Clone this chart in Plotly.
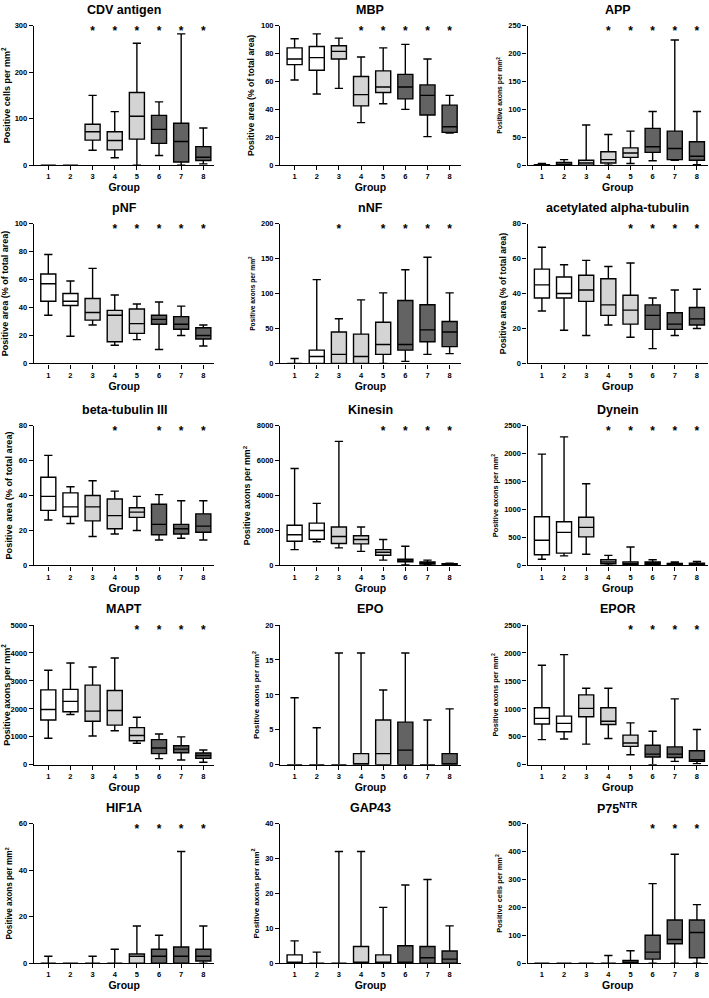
import plotly.graph_objects as go

GROUPS = [1, 2, 3, 4, 5, 6, 7, 8]
SHADES = ["#ffffff", "#ffffff", "#d4d4d4", "#d4d4d4", "#d4d4d4", "#636363", "#636363", "#636363"]

# ---- CDV antigen
cdv_low  = [0, 0, 32, 16, 0, 21, 0, 3]
cdv_q1   = [0, 0, 54, 33, 56, 47, 7, 10]
cdv_med  = [0, 0, 72, 53, 105, 77, 51, 17]
cdv_q3   = [0, 0, 88, 72, 156, 107, 90, 40]
cdv_high = [0, 0, 150, 115, 262, 136, 282, 80]
cdv_star = [3, 4, 5, 6, 7, 8]

# ---- MBP
mbp_low  = [61, 51, 55, 30.5, 44, 40, 20.5, 23]
mbp_q1   = [72, 68, 76, 42.5, 52, 47.5, 36, 23.5]
mbp_med  = [76, 77, 81.5, 50.5, 56, 56, 50, 27.5]
mbp_q3   = [84, 85, 85.5, 63.5, 67.5, 65, 57.5, 43]
mbp_high = [90.5, 94, 91, 77.5, 84, 86.5, 76, 50]
mbp_star = [4, 5, 6, 7, 8]

# ---- APP
app_low  = [0, 0, 0, 0, 3, 8, 9, 1]
app_q1   = [0, 0, 0, 4, 14, 23, 10, 9]
app_med  = [0, 1, 4, 10, 22, 33, 30, 16]
app_q3   = [1, 5, 9, 24, 31, 66, 61, 42]
app_high = [3, 10, 72, 55, 61, 96, 224, 96]
app_star = [4, 5, 6, 7, 8]

# ---- pNF
pnf_low  = [34.5, 19.5, 27.5, 13, 17, 10, 20, 12.5]
pnf_q1   = [44.5, 41.5, 31, 15.5, 21.5, 28, 24.5, 17.5]
pnf_med  = [57, 44.5, 36.5, 34.5, 28.5, 31.5, 28, 20]
pnf_q3   = [64, 50, 46.5, 38, 39, 34.5, 33.5, 25.5]
pnf_high = [78, 59, 68, 49, 42.5, 44, 41, 27.5]
pnf_star = [4, 5, 6, 7, 8]

# ---- nNF
nnf_low  = [0, 0, 0, 0, 0, 3, 13, 14]
nnf_q1   = [0, 0, 0, 0, 13, 19, 31, 24]
nnf_med  = [0, 10, 13, 10, 27, 27, 48, 45]
nnf_q3   = [0, 19, 45, 42, 59, 90, 84, 60]
nnf_high = [7, 120, 64, 91, 101, 134, 152, 101]
nnf_star = [3, 5, 6, 7, 8]

# ---- acetylated alpha-tubulin
aat_low  = [30, 19, 16, 22, 15, 8.5, 16, 20]
aat_q1   = [37.5, 37.5, 35.5, 27.5, 22.5, 19.5, 19.5, 22]
aat_med  = [45, 40, 42, 33.5, 30.5, 27.5, 22.5, 25.5]
aat_q3   = [54, 49.5, 50.5, 48.5, 39, 33.5, 29, 32]
aat_high = [66.5, 56.5, 59, 55.5, 57.5, 37.5, 42, 42.5]
aat_star = [5, 6, 7, 8]

# ---- beta-tubulin III
btu_low  = [26, 24, 16.5, 18, 20, 14.5, 15.5, 14.5]
btu_q1   = [31.5, 28, 25.5, 21, 27.5, 17.5, 18, 19]
btu_med  = [39.5, 33.5, 33.5, 28.5, 30.5, 23.5, 21, 22.5]
btu_q3   = [50.5, 41.5, 40, 38, 33, 35, 23.5, 29.5]
btu_high = [63, 45, 48.5, 42.5, 39.5, 40.5, 37, 37]
btu_star = [4, 6, 7, 8]

# ---- Kinesin
kin_low  = [900, 1350, 1000, 800, 300, 30, 0, 0]
kin_q1   = [1380, 1500, 1250, 1230, 580, 200, 80, 30]
kin_med  = [1750, 2000, 1650, 1480, 750, 250, 130, 60]
kin_q3   = [2300, 2420, 2200, 1700, 900, 350, 200, 90]
kin_high = [5550, 3550, 7100, 2200, 1480, 1100, 300, 130]
kin_star = [5, 6, 7, 8]

# ---- Dynein
dyn_low  = [110, 170, 200, 0, 0, 0, 0, 0]
dyn_q1   = [190, 220, 510, 30, 10, 15, 8, 10]
dyn_med  = [450, 590, 680, 60, 30, 35, 20, 25]
dyn_q3   = [870, 780, 860, 100, 60, 60, 35, 40]
dyn_high = [1990, 2300, 1460, 180, 330, 100, 60, 70]
dyn_star = [4, 5, 6, 7, 8]

# ---- MAPT
mapt_low  = [950, 1800, 1030, 1220, 770, 220, 170, 90]
mapt_q1   = [1600, 1900, 1560, 1420, 860, 400, 430, 230]
mapt_med  = [1980, 2270, 1920, 1940, 1050, 600, 560, 330]
mapt_q3   = [2680, 2700, 2850, 2660, 1330, 900, 680, 420]
mapt_high = [3380, 3640, 3500, 3820, 1700, 1100, 1000, 530]
mapt_star = [5, 6, 7, 8]

# ---- EPO
epo_low  = [0, 0, 0, 0, 0, 0, 0, 0]
epo_q1   = [0, 0, 0, 0, 0, 0, 0, 0]
epo_med  = [0, 0, 0, 0, 1.6, 2.1, 0, 0]
epo_q3   = [0, 0, 0, 1.6, 6.4, 6.1, 0, 1.6]
epo_high = [9.6, 5.3, 16, 16, 10.7, 16, 6.4, 8]
epo_star = []

# ---- EPOR
epor_low  = [450, 460, 370, 470, 180, 0, 60, 20]
epor_q1   = [730, 590, 860, 720, 330, 140, 130, 60]
epor_med  = [830, 740, 1010, 780, 390, 190, 190, 90]
epor_q3   = [1020, 870, 1250, 1020, 530, 350, 320, 250]
epor_high = [1780, 1970, 1370, 1370, 750, 600, 1180, 630]
epor_star = [5, 6, 7, 8]

# ---- HIF1A
hif_low  = [0, 0, 0, 0, 0, 0, 0, 0]
hif_q1   = [0, 0, 0, 0, 0, 0, 0, 1]
hif_med  = [0, 0, 0, 0, 3, 3, 3, 3]
hif_q3   = [0, 0, 0, 0, 4, 6, 7, 6]
hif_high = [3, 0, 3, 6, 16, 12, 48, 16]
hif_star = [5, 6, 7, 8]

# ---- GAP43
gap_low  = [0, 0, 0, 0, 0, 0, 0, 0]
gap_q1   = [0, 0, 0, 0, 0, 0, 0, 0]
gap_med  = [0, 0, 0, 0, 0, 0, 1.6, 1.2]
gap_q3   = [2.4, 0, 0, 4.8, 2.4, 5, 4.8, 3.5]
gap_high = [6.4, 3.2, 32, 32, 16, 22.4, 24, 10.7]
gap_star = []

# ---- P75NTR
p75_low  = [0, 0, 0, 0, 0, 0, 0, 0]
p75_q1   = [0, 0, 0, 0, 0, 15, 70, 20]
p75_med  = [0, 0, 0, 0, 3, 40, 85, 110]
p75_q3   = [0, 0, 0, 0, 10, 100, 155, 155]
p75_high = [0, 0, 0, 28, 45, 285, 390, 210]
p75_star = [6, 7, 8]

CELLS = "Positive cells per mm<sup>2</sup>"
AREA = "Positive area (% of total area)"
AXONS = "Positive axons per mm<sup>2</sup>"

# (title, y title, y max, tick step, stats, starred groups, y-title font size)
PANELS = [
    ("CDV antigen", CELLS, 300, 100, (cdv_low, cdv_q1, cdv_med, cdv_q3, cdv_high), cdv_star, 9),
    ("MBP", AREA, 100, 20, (mbp_low, mbp_q1, mbp_med, mbp_q3, mbp_high), mbp_star, 8.7),
    ("APP", AXONS, 250, 50, (app_low, app_q1, app_med, app_q3, app_high), app_star, 6.8),
    ("pNF", AREA, 100, 20, (pnf_low, pnf_q1, pnf_med, pnf_q3, pnf_high), pnf_star, 9),
    ("nNF", AXONS, 200, 50, (nnf_low, nnf_q1, nnf_med, nnf_q3, nnf_high), nnf_star, 6.6),
    ("acetylated alpha-tubulin", AREA, 80, 20, (aat_low, aat_q1, aat_med, aat_q3, aat_high), aat_star, 8.7),
    ("beta-tubulin III", AREA, 80, 20, (btu_low, btu_q1, btu_med, btu_q3, btu_high), btu_star, 9.2),
    ("Kinesin", AXONS, 8000, 2000, (kin_low, kin_q1, kin_med, kin_q3, kin_high), kin_star, 8.8),
    ("Dynein", AXONS, 2500, 500, (dyn_low, dyn_q1, dyn_med, dyn_q3, dyn_high), dyn_star, 7.4),
    ("MAPT", AXONS, 5000, 1000, (mapt_low, mapt_q1, mapt_med, mapt_q3, mapt_high), mapt_star, 9),
    ("EPO", AXONS, 20, 5, (epo_low, epo_q1, epo_med, epo_q3, epo_high), epo_star, 7.8),
    ("EPOR", AXONS, 2500, 500, (epor_low, epor_q1, epor_med, epor_q3, epor_high), epor_star, 7.4),
    ("HIF1A", AXONS, 60, 20, (hif_low, hif_q1, hif_med, hif_q3, hif_high), hif_star, 8.2),
    ("GAP43", AXONS, 40, 10, (gap_low, gap_q1, gap_med, gap_q3, gap_high), gap_star, 8),
    ("P75<sup>NTR</sup>", CELLS, 500, 100, (p75_low, p75_q1, p75_med, p75_q3, p75_high), p75_star, 7.4),
]

W, H = 709, 998
COL_X = [32, 279, 527]          # left edge of plot area (px)
PLOT_W = 181
ROW_Y = [21.7, 221.7, 425.5, 626.7, 827]  # top edge of plot area (px)
PLOT_H = 141

FONT = "Liberation Sans, Arial, sans-serif"
LW = 1.4

fig = go.Figure()
layout = dict(
    width=W, height=H,
    margin=dict(l=0, r=0, t=0, b=0),
    paper_bgcolor="white", plot_bgcolor="white",
    boxmode="overlay", showlegend=False,
    font=dict(family=FONT, color="black", weight="bold"),
    annotations=[],
)

for i, (title, ytitle, ymax, dtick, stats, stars, yfs) in enumerate(PANELS):
    r, c = divmod(i, 3)
    sfx = "" if i == 0 else str(i + 1)
    xa, ya = "x" + sfx, "y" + sfx
    x0 = COL_X[c] / W
    x1 = (COL_X[c] + PLOT_W) / W
    y1 = 1 - ROW_Y[r] / H
    y0 = 1 - (ROW_Y[r] + PLOT_H) / H
    low, q1, med, q3, high = stats
    for shade in ["#ffffff", "#d4d4d4", "#636363"]:
        idx = [k for k in range(8) if SHADES[k] == shade]
        fig.add_trace(go.Box(
            x=[GROUPS[k] for k in idx],
            q1=[q1[k] for k in idx], median=[med[k] for k in idx],
            q3=[q3[k] for k in idx],
            lowerfence=[low[k] for k in idx], upperfence=[high[k] for k in idx],
            fillcolor=shade, line=dict(color="black", width=LW),
            width=0.68, whiskerwidth=0.55, boxpoints=False,
            xaxis=xa, yaxis=ya, hoverinfo="skip", showlegend=False,
        ))
    if stars:
        fig.add_trace(go.Scatter(
            x=stars, y=[ymax * 0.955] * len(stars), mode="text", text=["*"] * len(stars),
            textfont=dict(size=12, family=FONT, color="black"),
            xaxis=xa, yaxis=ya, hoverinfo="skip", showlegend=False, cliponaxis=False,
        ))
    layout["xaxis" + sfx] = dict(
        domain=[x0, x1], anchor=ya, range=[0.35, 8.5],
        tickvals=GROUPS, ticktext=[str(g) for g in GROUPS],
        ticks="outside", ticklen=4, tickwidth=LW, tickcolor="black",
        showline=True, linecolor="black", linewidth=LW,
        showgrid=False, zeroline=False, fixedrange=True,
        tickfont=dict(size=7.5, family=FONT, weight="bold"),
        title=dict(text="Group", font=dict(size=10.5, family=FONT, weight="bold"), standoff=1),
    )
    layout["yaxis" + sfx] = dict(
        domain=[y0, y1], anchor=xa, range=[0, ymax], dtick=dtick, tick0=0,
        ticks="outside", ticklen=4, tickwidth=LW, tickcolor="black",
        showline=True, linecolor="black", linewidth=LW,
        showgrid=False, zeroline=False, fixedrange=True,
        tickfont=dict(size=7.5, family=FONT, weight="bold"),
        title=dict(text=ytitle, font=dict(size=yfs, family=FONT, weight="bold"), standoff=4),
    )
    layout["annotations"].append(dict(
        text=title, xref="paper", yref="paper",
        x=(x0 + x1) / 2, y=y1 + 16 / H, xanchor="center", yanchor="middle",
        showarrow=False, font=dict(size=12.5, family=FONT, weight="bold", color="black"),
    ))

fig.update_layout(**layout)
fig.write_html(
    "out.html",
    config={"displayModeBar": False},
    post_script="document.body.style.margin='0px';document.body.style.overflow='hidden';",
)
